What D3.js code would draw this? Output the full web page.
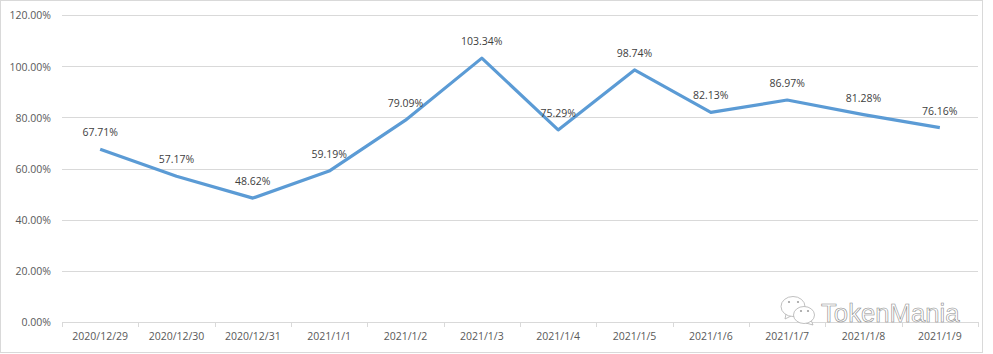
<!DOCTYPE html>
<html>
<head>
<meta charset="utf-8">
<style>
html, body { margin: 0; padding: 0; background: #fff; }
svg { display: block; }
text { font-family: "Open Sans", "Noto Sans", sans-serif; }
</style>
</head>
<body>
<div id="chart"></div>
<script src="https://cdn.jsdelivr.net/npm/d3@7"></script>
<script>
var categories = ["2020/12/29", "2020/12/30", "2020/12/31", "2021/1/1", "2021/1/2", "2021/1/3",
    "2021/1/4", "2021/1/5", "2021/1/6", "2021/1/7", "2021/1/8", "2021/1/9"];
var values = [67.71, 57.17, 48.62, 59.19, 79.09, 103.34, 75.29, 98.74, 82.13, 86.97, 81.28, 76.16];
var yTicks = [0, 20, 40, 60, 80, 100, 120];

var widthSvg = 993,
    heightSvg = 354,
    margin = { top: 15, right: 15, bottom: 32, left: 62 },
    width = widthSvg - margin.left - margin.right,
    height = heightSvg - margin.top - margin.bottom;

var svg = d3.select("#chart").append("svg")
    .attr("width", widthSvg)
    .attr("height", heightSvg);

// outer chart frame
svg.append("rect")
    .attr("x", 0.5).attr("y", 0.5)
    .attr("width", 982).attr("height", 352)
    .attr("fill", "#fff")
    .attr("stroke", "#d9d9d9");

var g = svg.append("g")
    .attr("transform", "translate(" + margin.left + "," + margin.top + ")");

var xScale = d3.scaleBand().domain(categories).range([0, width]);
var yScale = d3.scaleLinear().domain([0, 120]).range([height + 0.5, 0.5]);

// gridlines
g.append("g").selectAll("line")
    .data(yTicks.slice(1))
    .enter().append("line")
    .attr("x1", 0)
    .attr("x2", width)
    .attr("y1", function (d) { return Math.floor(yScale(d)) + 0.5; })
    .attr("y2", function (d) { return Math.floor(yScale(d)) + 0.5; })
    .attr("stroke", "#d9d9d9");

var yAxis = g.append("g")
    .call(d3.axisLeft(yScale).tickValues(yTicks).tickSize(0).tickPadding(11)
        .tickFormat(function (d) { return d.toFixed(2) + "%"; }));
yAxis.select(".domain").remove();
yAxis.selectAll("text").attr("font-size", 10.5).attr("fill", "#595959")
    .style("font-family", "'Open Sans', 'Noto Sans', sans-serif");

var xAxis = g.append("g")
    .attr("transform", "translate(0," + height + ")")
    .call(d3.axisBottom(xScale).tickSize(0).tickPadding(11));
xAxis.select(".domain").attr("stroke", "#d9d9d9");
xAxis.selectAll("text").attr("font-size", 10.5).attr("fill", "#595959")
    .style("font-family", "'Open Sans', 'Noto Sans', sans-serif");

// tick marks sit between the categories
g.append("g").selectAll("line")
    .data(categories.concat(["end"]))
    .enter().append("line")
    .attr("x1", function (d, i) { return Math.round(i * xScale.step()) + 0.5; })
    .attr("x2", function (d, i) { return Math.round(i * xScale.step()) + 0.5; })
    .attr("y1", height)
    .attr("y2", height + 5)
    .attr("stroke", "#d9d9d9");

var line = d3.line()
    .x(function (d, i) { return xScale(categories[i]) + xScale.bandwidth() / 2; })
    .y(function (d) { return yScale(d); });

g.append("path")
    .datum(values)
    .attr("fill", "none")
    .attr("stroke", "#5b9bd5")
    .attr("stroke-width", 3.2)
    .attr("stroke-linejoin", "round")
    .attr("d", line);

g.append("g").selectAll("text")
    .data(values)
    .enter().append("text")
    .attr("x", function (d, i) { return xScale(categories[i]) + xScale.bandwidth() / 2; })
    .attr("y", function (d) { return yScale(d) - 13; })
    .attr("text-anchor", "middle")
    .attr("font-size", 10.5)
    .attr("fill", "#404040")
    .text(function (d) { return d.toFixed(2) + "%"; });

// watermark
var mark = svg.append("g").attr("fill", "#fff").attr("stroke", "#b0b0b0").attr("stroke-width", 0.8);
mark.append("path").attr("d", "M786 314 L785 319 L791 316");
mark.append("ellipse").attr("cx", 793).attr("cy", 306.5).attr("rx", 12).attr("ry", 10);
mark.append("path").attr("d", "M811 320 L813 325 L806 323");
mark.append("ellipse").attr("cx", 804).attr("cy", 315).attr("rx", 10.5).attr("ry", 8.5);
svg.append("g").attr("fill", "#a0a0a0").selectAll("circle")
    .data([[789, 302], [798, 302], [801, 311], [808, 311]])
    .enter().append("circle")
    .attr("cx", function (d) { return d[0]; })
    .attr("cy", function (d) { return d[1]; })
    .attr("r", 1.1);
svg.append("text")
    .attr("x", 821)
    .attr("y", 322)
    .attr("font-size", 25.7)
    .attr("fill", "#fff")
    .attr("stroke", "#8c8c8c")
    .attr("stroke-width", 0.6)
    .style("font-family", "'Liberation Sans', sans-serif")
    .text("TokenMania");
</script>
</body>
</html>
